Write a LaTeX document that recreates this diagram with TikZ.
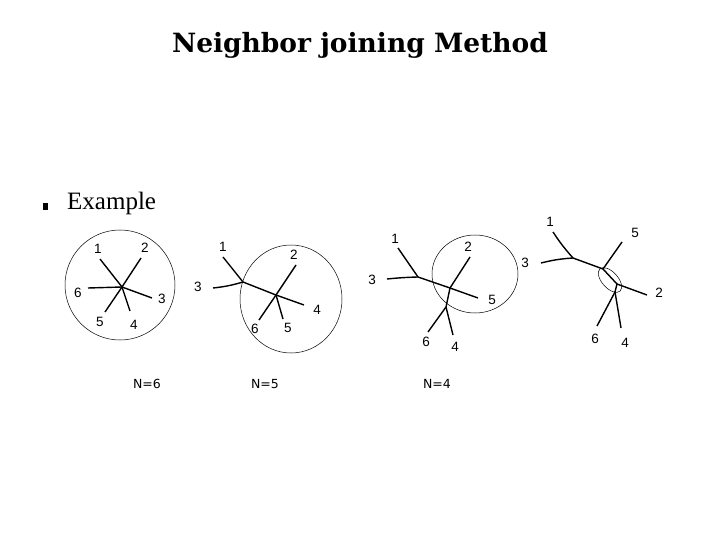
\documentclass[tikz,border=0pt]{standalone}
\usepackage{fontspec}
\setmainfont{Liberation Serif}
\newfontfamily\titlefont{DejaVu Serif}
\newfontfamily\leaffont{Liberation Sans}
\newfontfamily\countfont{DejaVu Sans}
\usetikzlibrary{positioning}
\definecolor{ink}{HTML}{000000}

\tikzset{
  branch/.style={draw=ink, line width=1.4pt},
  ring/.style={draw=ink, line width=0.5pt},
  leaf/.style={inner sep=0pt, font=\leaffont\fontsize{13.5}{13.5}\selectfont},
  count/.style={inner sep=0pt, font=\countfont\fontsize{12.5}{12.5}\selectfont}
}

\begin{document}
\begin{tikzpicture}[x=1pt, y=-1pt]
\useasboundingbox (0,0) rectangle (720,540);

% title and bullet
\node (title) at (360,45) {\titlefont\bfseries\fontsize{26.5}{26.5}\selectfont Neighbor joining Method};
\node (bullet) [fill=ink, minimum width=5pt, minimum height=7pt, inner sep=0pt] at (45,207) {};
\node (example) [anchor=west, inner sep=0pt] at (67,203) {\fontsize{25}{25}\selectfont Example};

% tree N=6
\coordinate (t1c) at (122,287);
\coordinate (t1e1) at (100,259);
\coordinate (t1e2) at (141,258);
\coordinate (t1e3) at (152,298);
\coordinate (t1e4) at (130,311);
\coordinate (t1e5) at (105,312);
\coordinate (t1e6) at (88,288);
\node[leaf] (t1l1) at (98,249) {1};
\node[leaf] (t1l2) at (145,248) {2};
\node[leaf] (t1l3) at (162,299) {3};
\node[leaf] (t1l4) at (134,325) {4};
\node[leaf] (t1l5) at (100,322) {5};
\node[leaf] (t1l6) at (78,293) {6};
\foreach \i in {1,...,6} \draw[branch] (t1c) -- (t1e\i);
\draw[ring] (120,285) circle [radius=55];

% tree N=5
\coordinate (t2a) at (243,282);
\coordinate (t2b) at (276,295);
\coordinate (t2e1) at (223,257);
\coordinate (t2e2) at (296,265);
\coordinate (t2e3) at (213,288);
\coordinate (t2e4) at (304,305);
\coordinate (t2e5) at (283,319);
\coordinate (t2e6) at (259,320);
\node[leaf] (t2l1) at (223,247) {1};
\node[leaf] (t2l2) at (294,255) {2};
\node[leaf] (t2l3) at (198,287) {3};
\node[leaf] (t2l4) at (317,310) {4};
\node[leaf] (t2l5) at (288,328) {5};
\node[leaf] (t2l6) at (255,329) {6};
\draw[branch] (t2a) -- (t2e1);
\draw[branch] (t2e3) to[bend right=5] (t2a);
\draw[branch] (t2a) -- (t2b);
\foreach \i in {2,4,5,6} \draw[branch] (t2b) -- (t2e\i);
\draw[ring] (291,299) ellipse [x radius=51, y radius=54];

% tree N=4
\coordinate (t3a) at (418,277);
\coordinate (t3b) at (450,288);
\coordinate (t3c) at (446,307);
\coordinate (t3e1) at (398,248);
\coordinate (t3e2) at (470,257);
\coordinate (t3e3) at (387,279);
\coordinate (t3e4) at (453,335);
\coordinate (t3e5) at (478,298);
\coordinate (t3e6) at (428,332);
\node[leaf] (t3l1) at (395,239) {1};
\node[leaf] (t3l2) at (468,247) {2};
\node[leaf] (t3l3) at (372,280) {3};
\node[leaf] (t3l4) at (455,347) {4};
\node[leaf] (t3l5) at (492,300) {5};
\node[leaf] (t3l6) at (426,342) {6};
\draw[branch] (t3a) -- (t3e1);
\draw[branch] (t3e3) to[bend left=2] (t3a);
\draw[branch] (t3a) -- (t3b);
\draw[branch] (t3b) -- (t3e2);
\draw[branch] (t3b) -- (t3e5);
\draw[branch] (t3b) -- (t3c);
\draw[branch] (t3c) -- (t3e6);
\draw[branch] (t3c) -- (t3e4);
\draw[ring] (475,274) ellipse [x radius=43, y radius=39];

% last joining step
\coordinate (t4a) at (573,258);
\coordinate (t4b) at (603,269);
\coordinate (t4c) at (617,284);
\coordinate (t4d) at (615,292);
\coordinate (t4e1) at (553,232);
\coordinate (t4e2) at (647,295);
\coordinate (t4e3) at (541,263);
\coordinate (t4e4) at (621,328);
\coordinate (t4e5) at (622,242);
\coordinate (t4e6) at (597,326);
\node[leaf] (t4l1) at (550,222) {1};
\node[leaf] (t4l2) at (659,293) {2};
\node[leaf] (t4l3) at (525,263) {3};
\node[leaf] (t4l4) at (625,343) {4};
\node[leaf] (t4l5) at (635,233) {5};
\node[leaf] (t4l6) at (595,339) {6};
\draw[branch] (t4e1) to[bend right=4] (t4a);
\draw[branch] (t4e3) to[bend left=5] (t4a);
\draw[branch] (t4a) -- (t4b);
\draw[branch] (t4b) -- (t4e5);
\draw[branch] (t4b) -- (t4c);
\draw[branch] (t4c) -- (t4e2);
\draw[branch] (t4c) -- (t4d);
\draw[branch] (t4d) -- (t4e6);
\draw[branch] (t4d) -- (t4e4);
\draw[ring] (610,280) ellipse [x radius=15, y radius=8, rotate=-48];

% counts
\node[count] (n6) at (147,384) {N=6};
\node[count] (n5) at (265,384) {N=5};
\node[count] (n4) at (437,384) {N=4};
\end{tikzpicture}
\end{document}
